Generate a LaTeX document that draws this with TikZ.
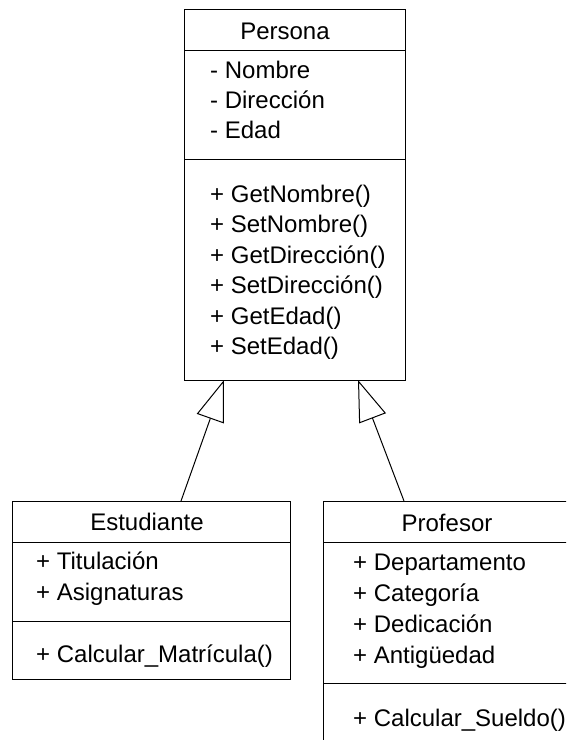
\documentclass[tikz,border=0pt]{standalone}
\usepackage{fontspec}
\setmainfont{Liberation Sans}
\usetikzlibrary{arrows.meta}
\begin{document}
\begin{tikzpicture}[x=1pt,y=-1pt,
  classbox/.style={draw=black,line width=1pt,inner sep=0pt,outer sep=0pt,anchor=north west},
  sepline/.style={draw=black,line width=1pt},
  member/.style={anchor=base west,inner sep=0pt,font=\fontsize{24}{24}\selectfont},
  classname/.style={anchor=base,inner sep=0pt,font=\fontsize{24}{24}\selectfont},
  gen/.style={draw=black,line width=1pt,-{Triangle[open,length=41pt,width=28.5pt]}}]
\useasboundingbox (0,0) rectangle (566,740);
\clip (0,0) rectangle (566,740);

% class Persona
\node[classbox,minimum width=221pt,minimum height=371pt] (persona) at (184,9) {};
\draw[sepline] (persona.west |- 0,50) -- (persona.east |- 0,50);
\draw[sepline] (persona.west |- 0,159) -- (persona.east |- 0,159);
\node[classname] (persona-name) at (285,39.5) {Persona};
\node[member] (persona-a1) at (210,78.5) {- Nombre};
\node[member] (persona-a2) at (210,108.5) {- Dirección};
\node[member] (persona-a3) at (210,138.5) {- Edad};
\node[member] (persona-m1) at (210,202) {+ GetNombre()};
\node[member] (persona-m2) at (210,232.5) {+ SetNombre()};
\node[member] (persona-m3) at (210,263) {+ GetDirección()};
\node[member] (persona-m4) at (210,293.5) {+ SetDirección()};
\node[member] (persona-m5) at (210,324) {+ GetEdad()};
\node[member] (persona-m6) at (210,354.5) {+ SetEdad()};

% class Estudiante
\node[classbox,minimum width=278pt,minimum height=178pt] (estudiante) at (12,501) {};
\draw[sepline] (estudiante.west |- 0,542) -- (estudiante.east |- 0,542);
\draw[sepline] (estudiante.west |- 0,621) -- (estudiante.east |- 0,621);
\node[classname] (estudiante-name) at (147,530.5) {Estudiante};
\node[member] (estudiante-a1) at (36,569.5) {+ Titulación};
\node[member] (estudiante-a2) at (36,600.5) {+ Asignaturas};
\node[member] (estudiante-m1) at (36,662.5) {+ Calcular\_Matrícula()};

% class Profesor
\node[classbox,minimum width=248pt,minimum height=270pt] (profesor) at (323,501) {};
\draw[sepline] (profesor.west |- 0,542) -- (profesor.east |- 0,542);
\draw[sepline] (profesor.west |- 0,683) -- (profesor.east |- 0,683);
\node[classname] (profesor-name) at (447,531.5) {Profesor};
\node[member] (profesor-a1) at (353,570.5) {+ Departamento};
\node[member] (profesor-a2) at (353,601.5) {+ Categoría};
\node[member] (profesor-a3) at (353,632.5) {+ Dedicación};
\node[member] (profesor-a4) at (353,663.5) {+ Antigüedad};
\node[member] (profesor-m1) at (353,726.5) {+ Calcular\_Sueldo()};

% generalization arrows
\draw[gen] (estudiante.north -| 181,0) -- (persona.south -| 224,0);
\draw[gen] (profesor.north -| 404,0) -- (persona.south -| 358,0);
\end{tikzpicture}
\end{document}
